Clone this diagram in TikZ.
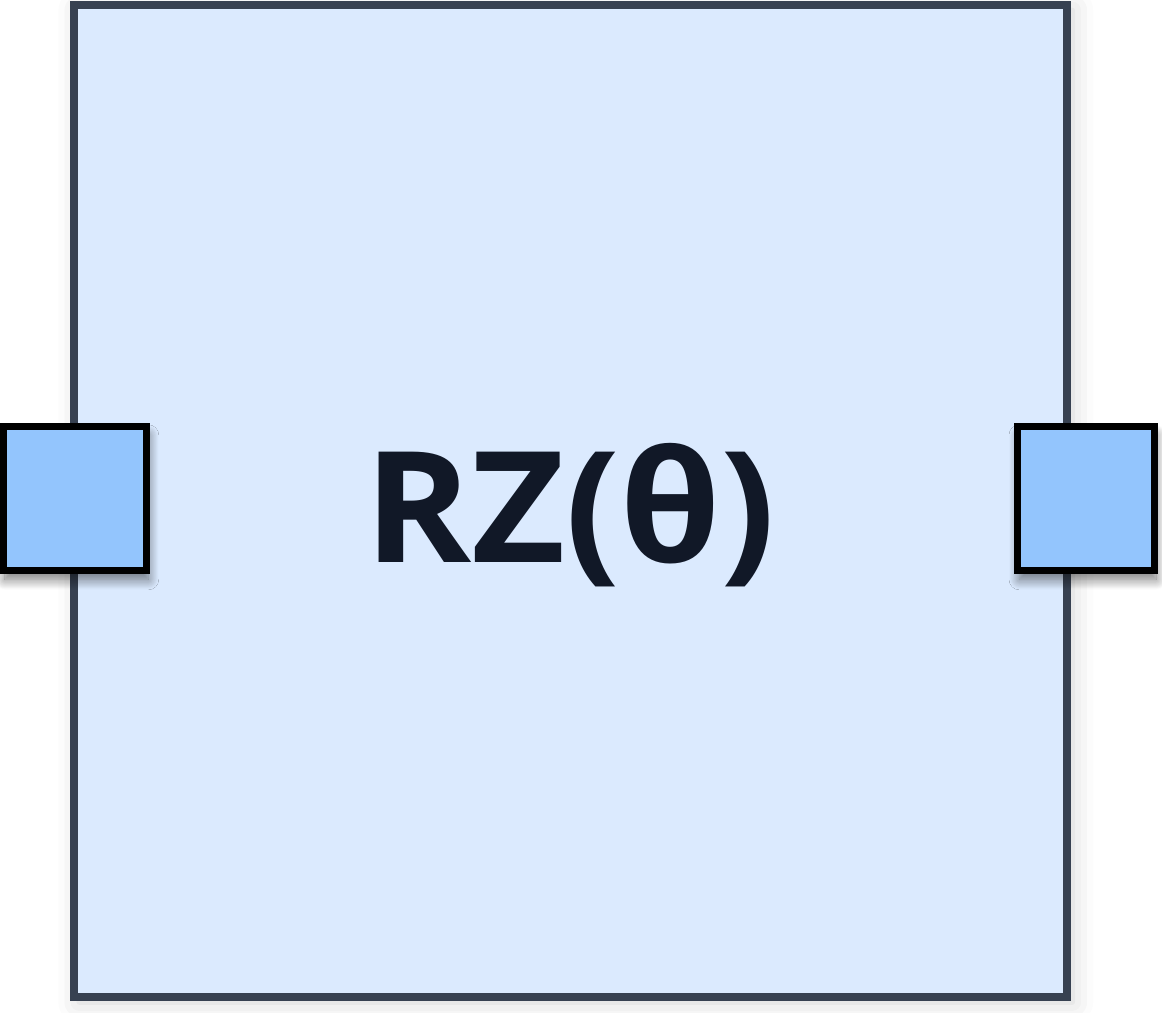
\documentclass[tikz,border=0pt]{standalone}
\usepackage{fontspec}
\setmainfont{Open Sans}[FakeStretch=1.05]
\usetikzlibrary{positioning,shadows.blur}
\definecolor{edge}{HTML}{374151}
\definecolor{body}{HTML}{DBEAFE}
\definecolor{pin}{HTML}{93C5FD}
\definecolor{txt}{HTML}{111827}
\tikzset{gatebox/.style={draw=edge,line width=4.5pt,fill=body,minimum width=19.86cm,minimum height=19.83cm,blur shadow={shadow xshift=3pt,shadow yshift=-3pt,shadow blur radius=12pt,shadow opacity=18}},
portbox/.style={draw=black,line width=4pt,fill=pin,minimum height=2.88cm,blur shadow={shadow xshift=1pt,shadow yshift=-5pt,shadow blur radius=6pt,shadow blur steps=20,shadow opacity=55}},
gatelabel/.style={text=txt,font=\bfseries\fontsize{88}{88}\selectfont,inner sep=0pt}}
\begin{document}
\begin{tikzpicture}[x=0.02cm,y=-0.02cm]
\useasboundingbox(0,0)rectangle(1162,1013);
\node[gatebox](gate)at(570.5,501){};
\node[portbox,minimum width=2.87cm](portin)at(74.75,498.5){};\node[portbox,minimum width=2.73cm](portout)at(1086,498.5){};
\node[gatelabel,anchor=base](label)at(570,562){RZ(θ)};
\end{tikzpicture}
\end{document}
